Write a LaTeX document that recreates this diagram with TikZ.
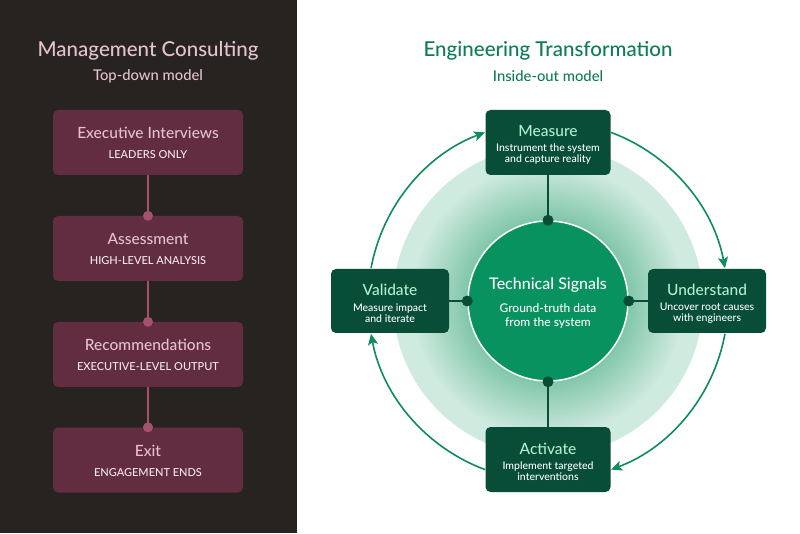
\documentclass[tikz,border=0pt]{standalone}
\usepackage{fontspec}
\IfFontExistsTF{Lato Medium}{\setmainfont{Lato Medium}}{\setmainfont{Lato}[FakeBold=0.5]}
\usetikzlibrary{arrows.meta,calc}
\definecolor{leftbg}{HTML}{272320}
\definecolor{mboxc}{HTML}{622C41}
\definecolor{mpink}{HTML}{E6C2D0}
\definecolor{msub}{HTML}{F5E9ED}
\definecolor{mline}{HTML}{A5506F}
\definecolor{gtitle}{HTML}{0C7D54}
\definecolor{gbox}{HTML}{074D37}
\definecolor{gboxt}{HTML}{B2EFCF}
\definecolor{gcirc}{HTML}{07925F}
\definecolor{garrow}{HTML}{0E8C5C}
\definecolor{glowout}{HTML}{CFEADF}
\definecolor{glowin}{HTML}{80C6A9}
\definecolor{gdot}{HTML}{0A4D37}
\newcommand\mttl[1]{{\fontsize{15.5}{15.5}\selectfont\color{mpink}#1}}
\newcommand\gttl[1]{{\fontsize{15.5}{15.5}\selectfont\color{gboxt}#1}}
\begin{document}
\begin{tikzpicture}[x=1pt,y=1pt,
  mbox/.style={fill=mboxc, rounded corners=5pt, minimum width=190pt, minimum height=65pt, inner sep=0pt},
  mtext/.style={inner sep=0pt, align=center, text=msub, font=\fontsize{11}{14}\selectfont},
  gboxw/.style={fill=gbox, rounded corners=5pt, minimum width=125pt, minimum height=65pt, inner sep=0pt},
  gboxn/.style={gboxw, minimum width=118pt, minimum height=64pt},
  gtext/.style={inner sep=0pt, align=center, text=white, font=\fontsize{10.5}{11}\selectfont},
  mconn/.style={draw=mline, line width=1.8pt},
  gconn/.style={draw=gdot, line width=1.6pt},
  cyc/.style={draw=garrow, line width=1.6pt, -{Stealth[length=11pt,width=10pt,inset=2.5pt]}},
]
\useasboundingbox (0,0) rectangle (800,533);
\fill[white] (0,0) rectangle (800,533);
\fill[leftbg] (0,0) rectangle (297,533);

% ---------- left panel ----------
\node[text=mpink, font=\fontsize{20.5}{21}\selectfont] (lt) at (148,482) {Management Consulting};
\node[text=mpink, font=\fontsize{14.8}{15}\selectfont] (ls) at (148,456.5) {Top-down model};

\node[mbox] (m1) at (148,390.5) {};
\node[mbox] (m2) at (148,284.5) {};
\node[mbox] (m3) at (148,178.5) {};
\node[mbox] (m4) at (148,73) {};
\node[mtext] (m1t) at ([yshift=-0.5]m1.center) {\mttl{Executive Interviews}\\[6pt]LEADERS ONLY};
\node[mtext] (m2t) at ([yshift=-0.5]m2.center) {\mttl{Assessment}\\[6pt]HIGH-LEVEL ANALYSIS};
\node[mtext] (m3t) at ([yshift=-0.5]m3.center) {\mttl{Recommendations}\\[6pt]EXECUTIVE-LEVEL OUTPUT};
\node[mtext] (m4t) at ([yshift=-0.5]m4.center) {\mttl{Exit}\\[6pt]ENGAGEMENT ENDS};

\draw[mconn] (m1.south) -- (m2.north);
\draw[mconn] (m2.south) -- (m3.north);
\draw[mconn] (m3.south) -- (m4.north);
\fill[mline] (m2.north) circle[radius=5];
\fill[mline] (m3.north) circle[radius=5];
\fill[mline] (m4.north) circle[radius=5];

% ---------- right panel ----------
\node[text=gtitle, font=\fontsize{20.5}{21}\selectfont] (rt) at (548,482) {Engineering Transformation};
\node[text=gtitle, font=\fontsize{14.8}{15}\selectfont] (rs) at (548,456.5) {Inside-out model};

\coordinate (c) at (548,232);
\fill[glowout] (c) circle[radius=155];
\foreach \i in {0,...,50}{
  \pgfmathsetmacro\r{137-\i*1.14}
  \pgfmathtruncatemacro\p{\i*100/50}
  \fill[glowin!\p!glowout] (c) circle[radius=\r];
}

% cycle arrows
\coordinate (a1) at ($(c)+(69.5:180)$);
\coordinate (a2) at ($(c)+(-10.5:180)$);
\coordinate (a3) at ($(c)+(-110.5:180)$);
\coordinate (a4) at ($(c)+(169.5:180)$);
\draw[cyc] (a1) arc[start angle=69.5, end angle=10.5, radius=180];
\draw[cyc] (a2) arc[start angle=-10.5, end angle=-69.5, radius=180];
\draw[cyc] (a3) arc[start angle=-110.5, end angle=-169.5, radius=180];
\draw[cyc] (a4) arc[start angle=169.5, end angle=110.5, radius=180];

% center circle
\node[circle, fill=gcirc, draw=white, line width=1.5pt, minimum size=160pt, inner sep=0pt] (ts) at (c) {};
\node[inner sep=0pt, align=center, text=white, font=\fontsize{12}{14}\selectfont] (tst) at ([yshift=-2]ts.center)
  {{\fontsize{16}{16}\selectfont Technical Signals}\\[9pt]Ground-truth data\\from the system};

% boxes
\node[gboxw] (meas) at (548,390.5) {};
\node[gboxn] (und) at (707,232) {};
\node[gboxw] (act) at (548,73.5) {};
\node[gboxn] (val) at (390,232) {};
\node[gtext] (meast) at ([yshift=-2.5]meas.center) {\gttl{Measure}\\[4.5pt]Instrument the system\\and capture reality};
\node[gtext] (undt) at ([yshift=-2.5]und.center) {\gttl{Understand}\\[4.5pt]Uncover root causes\\with engineers};
\node[gtext] (actt) at ([yshift=-2.5]act.center) {\gttl{Activate}\\[4.5pt]Implement targeted\\interventions};
\node[gtext] (valt) at ([yshift=-2.5]val.center) {\gttl{Validate}\\[4.5pt]Measure impact\\and iterate};

\draw[gconn] (meas.south) -- (ts.north);
\draw[gconn] (und.west) -- (ts.east);
\draw[gconn] (act.north) -- (ts.south);
\draw[gconn] (val.east) -- (ts.west);
\fill[gdot] (ts.north) circle[radius=5.5];
\fill[gdot] (ts.east) circle[radius=5.5];
\fill[gdot] (ts.south) circle[radius=5.5];
\fill[gdot] (ts.west) circle[radius=5.5];
\end{tikzpicture}
\end{document}
